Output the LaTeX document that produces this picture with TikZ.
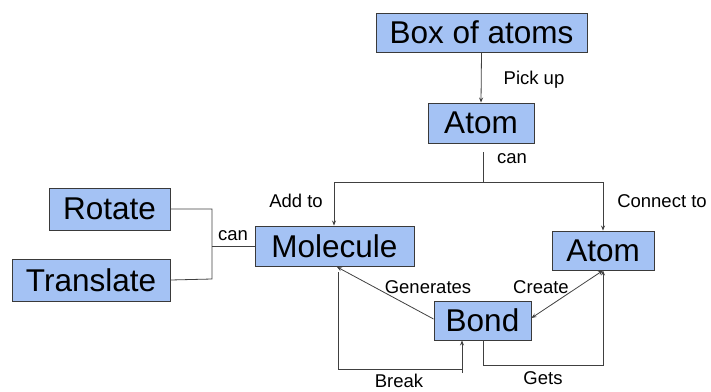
\documentclass[tikz,border=0pt]{standalone}
\usepackage{fontspec}
\setmainfont{Liberation Sans}
\usetikzlibrary{arrows.meta}
\definecolor{boxfill}{HTML}{A4C2F4}
\definecolor{edgecol}{HTML}{3A3A3A}
\definecolor{linecol}{HTML}{404040}
\begin{document}
\begin{tikzpicture}[x=1pt,y=-1pt,
  bignode/.style={draw=edgecol,line width=0.9pt,fill=boxfill,inner sep=0pt,
    font=\fontsize{31.5}{34}\selectfont,text=black},
  lbl/.style={font=\fontsize{18.5}{21}\selectfont,text=black,inner sep=0pt},
  conn/.style={draw=linecol,line width=0.8pt},
  arr/.style={conn,-{Stealth[length=5pt,width=4pt]}}]
\useasboundingbox (0,0) rectangle (711,391);
% boxes
\node[bignode,minimum width=211pt,minimum height=39pt] (box) at (481.5,32.5) {Box of atoms};
\node[bignode,minimum width=106pt,minimum height=40pt] (atomA) at (481,123) {Atom};
\node[bignode,minimum width=159pt,minimum height=40pt] (mol) at (334.5,246) {Molecule};
\node[bignode,minimum width=121pt,minimum height=42pt] (rot) at (109.5,209) {Rotate};
\node[bignode,minimum width=158pt,minimum height=42pt] (trans) at (91,280) {Translate};
\node[bignode,minimum width=102pt,minimum height=39pt] (atomB) at (603,250.5) {Atom};
\node[bignode,minimum width=97pt,minimum height=39pt] (bond) at (482.5,320.5) {Bond};
% labels
\node[lbl] (lpick) at (534,80) {Pick up};
\node[lbl] (lcan1) at (512,159) {can};
\node[lbl] (ladd) at (296,201) {Add to};
\node[lbl] (lconn) at (662,201) {Connect to};
\node[lbl] (lcan2) at (233,236) {can};
\node[lbl] (lgen) at (428,287) {Generates};
\node[lbl] (lcreate) at (541,287) {Create};
\node[lbl] (lbreak) at (399,381) {Break};
\node[lbl] (lgets) at (543,378) {Gets};
% helper coordinates
\coordinate (canTop) at (483,152);
\coordinate (canMid) at (483,182);
\coordinate (brkEnd) at (462,373);
% connectors
\draw[arr] (box.south) -- (atomA.north);
\draw[conn] (canTop) -- (canMid);
\draw[arr] (canMid) -- (334,182) -- (mol.north -| 334,0);
\draw[arr] (canMid) -- (603,182) -- (atomB.north);
\draw[conn] (rot.east) -- (212,209) -- (212,279) -- (trans.east);
\draw[conn] (212,246) -- (mol.west);
\draw[arr] (bond.west |- 0,319) -- (337,267);
\draw[conn,{Stealth[length=5pt,width=4pt]}-{Stealth[length=5pt,width=4pt]}] (atomB.south) -- (bond.east |- 0,318);
\draw[conn] (338,272) -- (338,369) -- (462,369);
\draw[arr] (brkEnd) -- (bond.south -| 462,0);
\draw[arr] (bond.south -| 483,0) -- (483,365) -- (603,365) -- (atomB.south);
\end{tikzpicture}
\end{document}
